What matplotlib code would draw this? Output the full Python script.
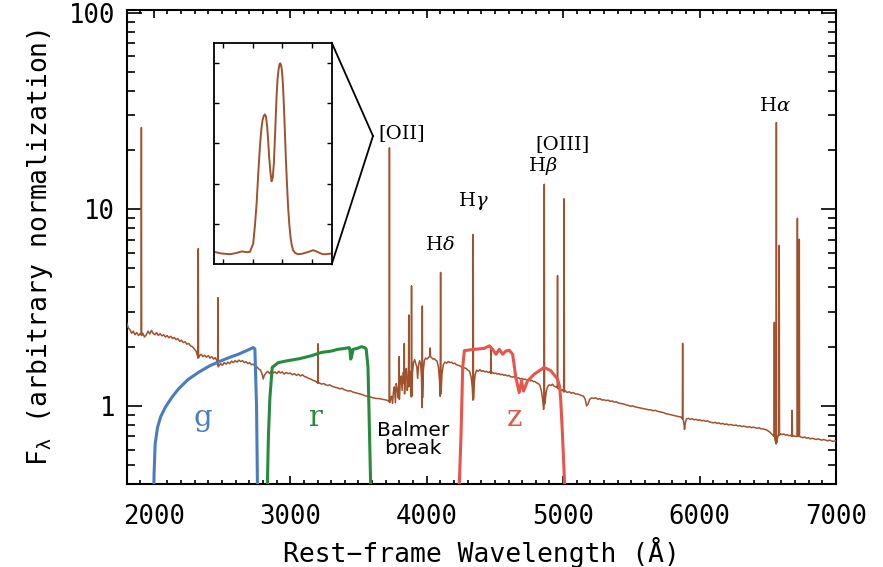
import matplotlib
matplotlib.use("Agg")
import matplotlib.pyplot as plt
from matplotlib.ticker import FixedLocator, MultipleLocator, NullFormatter, NullLocator
from matplotlib.lines import Line2D

# ---------------- data ----------------
# composite spectrum (rest-frame wavelength in Angstrom, arbitrary flux)
spec_wave = [
    1800, 1812, 1825, 1838, 1850, 1862, 1875, 1888, 1900, 1907, 1909, 1911, 1920, 1932, 1945, 1958,
    1970, 1983, 1995, 2008, 2020, 2033, 2046, 2060, 2072, 2085, 2098, 2110, 2124, 2138, 2150, 2163,
    2176, 2190, 2203, 2216, 2230, 2243, 2256, 2270, 2283, 2296, 2310, 2320, 2324, 2326, 2328, 2335,
    2348, 2360, 2373, 2386, 2400, 2412, 2425, 2438, 2450, 2462, 2468, 2470, 2472, 2478, 2490, 2503,
    2516, 2530, 2543, 2556, 2570, 2583, 2596, 2610, 2623, 2636, 2650, 2663, 2676, 2690, 2703, 2716,
    2730, 2743, 2756, 2770, 2783, 2795, 2802, 2810, 2822, 2835, 2848, 2862, 2875, 2888, 2902, 2915,
    2928, 2942, 2955, 2970, 2985, 3000, 3015, 3030, 3045, 3060, 3075, 3090, 3105, 3120, 3135, 3150,
    3165, 3180, 3195, 3201, 3203, 3205, 3215, 3230, 3245, 3260, 3275, 3290, 3305, 3320, 3335, 3350,
    3365, 3380, 3395, 3410, 3425, 3440, 3455, 3470, 3485, 3500, 3515, 3530, 3545, 3560, 3575, 3590,
    3605, 3620, 3635, 3650, 3665, 3680, 3695, 3708, 3718, 3725, 3727, 3729, 3735, 3742, 3750, 3756,
    3763, 3771, 3777, 3784, 3791, 3796, 3798, 3800, 3806, 3813, 3820, 3827, 3834, 3836, 3838, 3844,
    3851, 3858, 3864, 3867, 3869, 3871, 3878, 3885, 3887, 3889, 3891, 3896, 3903, 3912, 3920, 3928,
    3934, 3940, 3948, 3956, 3962, 3966, 3968, 3970, 3975, 3983, 3992, 4002, 4012, 4020, 4024, 4026,
    4028, 4036, 4046, 4056, 4066, 4076, 4086, 4094, 4099, 4102, 4105, 4112, 4122, 4134, 4146, 4158,
    4170, 4182, 4194, 4206, 4218, 4230, 4242, 4254, 4266, 4278, 4290, 4302, 4314, 4326, 4334, 4339,
    4341, 4343, 4348, 4356, 4366, 4378, 4390, 4402, 4414, 4426, 4438, 4450, 4462, 4469, 4471, 4473,
    4482, 4494, 4506, 4518, 4530, 4542, 4554, 4566, 4578, 4590, 4602, 4614, 4626, 4638, 4650, 4662,
    4674, 4686, 4698, 4710, 4722, 4734, 4746, 4758, 4770, 4782, 4794, 4806, 4818, 4830, 4840, 4850,
    4857, 4860, 4862, 4864, 4868, 4876, 4886, 4898, 4910, 4922, 4934, 4946, 4955, 4957, 4959, 4961,
    4966, 4976, 4986, 4996, 5004, 5007, 5010, 5018, 5030, 5045, 5060, 5075, 5090, 5105, 5120, 5135,
    5150, 5162, 5172, 5182, 5195, 5210, 5225, 5240, 5255, 5270, 5285, 5300, 5315, 5330, 5345, 5360,
    5375, 5390, 5405, 5420, 5435, 5450, 5465, 5480, 5495, 5510, 5525, 5540, 5555, 5570, 5585, 5600,
    5615, 5630, 5645, 5660, 5675, 5690, 5705, 5720, 5735, 5750, 5765, 5780, 5795, 5810, 5825, 5840,
    5855, 5868, 5874, 5876, 5878, 5884, 5890, 5896, 5904, 5918, 5932, 5946, 5960, 5974, 5988, 6002,
    6016, 6030, 6044, 6058, 6072, 6086, 6100, 6114, 6128, 6142, 6156, 6170, 6184, 6198, 6212, 6226,
    6240, 6254, 6268, 6282, 6296, 6310, 6324, 6338, 6352, 6366, 6380, 6394, 6408, 6422, 6436, 6450,
    6464, 6478, 6492, 6504, 6516, 6528, 6538, 6545, 6548, 6551, 6556, 6561, 6563, 6565, 6570, 6578,
    6582, 6584, 6586, 6594, 6606, 6618, 6630, 6642, 6654, 6666, 6675, 6678, 6681, 6690, 6702, 6712,
    6715, 6717, 6719, 6724, 6729, 6731, 6733, 6742, 6756, 6770, 6784, 6798, 6812, 6826, 6840, 6854,
    6868, 6882, 6896, 6910, 6924, 6938, 6952, 6966, 6980, 6994, 7000,
]
spec_flux = [
    2.66, 2.50, 2.44, 2.34, 2.40, 2.30, 2.36, 2.28, 2.33, 2.30, 26.0, 2.28, 2.34, 2.24, 2.30, 2.40,
    2.32, 2.42, 2.34, 2.30, 2.36, 2.28, 2.33, 2.27, 2.30, 2.24, 2.28, 2.22, 2.26, 2.20, 2.23, 2.17,
    2.20, 2.13, 2.16, 2.10, 2.12, 2.06, 2.08, 2.02, 2.00, 1.95, 1.90, 1.80, 1.75, 6.3, 1.76, 1.80,
    1.83, 1.78, 1.81, 1.77, 1.80, 1.75, 1.78, 1.73, 1.76, 1.70, 1.62, 3.55, 1.58, 1.60, 1.64, 1.61,
    1.66, 1.63, 1.67, 1.64, 1.69, 1.66, 1.70, 1.67, 1.71, 1.68, 1.70, 1.66, 1.68, 1.64, 1.66, 1.62,
    1.63, 1.59, 1.58, 1.54, 1.52, 1.44, 1.37, 1.43, 1.47, 1.50, 1.46, 1.51, 1.47, 1.49, 1.46, 1.50,
    1.47, 1.49, 1.45, 1.48, 1.46, 1.47, 1.44, 1.46, 1.43, 1.45, 1.42, 1.44, 1.41, 1.40, 1.38, 1.37,
    1.35, 1.34, 1.32, 1.31, 2.07, 1.30, 1.31, 1.29, 1.30, 1.28, 1.27, 1.28, 1.26, 1.25, 1.24, 1.235,
    1.22, 1.23, 1.21, 1.20, 1.19, 1.195, 1.18, 1.17, 1.165, 1.155, 1.15, 1.14, 1.13, 1.12, 1.115, 1.11,
    1.10, 1.095, 1.09, 1.09, 1.085, 1.08, 1.075, 1.07, 1.06, 1.05, 20.5, 1.04, 1.09, 1.12, 1.03, 1.18,
    1.25, 1.04, 1.30, 1.22, 1.10, 1.30, 1.78, 1.08, 1.35, 1.42, 1.20, 1.48, 1.30, 2.08, 1.15, 1.45,
    1.55, 1.20, 1.35, 1.60, 2.90, 1.25, 1.50, 1.30, 1.11, 4.08, 1.12, 1.48, 1.66, 1.72, 1.64, 1.58,
    1.38, 1.60, 1.70, 1.62, 1.40, 0.98, 3.22, 1.10, 1.50, 1.70, 1.75, 1.73, 1.76, 1.78, 1.80, 1.97,
    1.78, 1.76, 1.73, 1.74, 1.71, 1.69, 1.58, 1.35, 1.12, 4.77, 1.15, 1.45, 1.62, 1.67, 1.65, 1.68,
    1.66, 1.67, 1.64, 1.65, 1.62, 1.61, 1.60, 1.58, 1.57, 1.56, 1.55, 1.52, 1.50, 1.40, 1.25, 1.07,
    7.45, 1.08, 1.30, 1.45, 1.52, 1.50, 1.53, 1.50, 1.51, 1.49, 1.50, 1.48, 1.49, 1.47, 2.00, 1.46,
    1.48, 1.46, 1.47, 1.45, 1.46, 1.44, 1.45, 1.43, 1.44, 1.42, 1.43, 1.41, 1.40, 1.41, 1.39, 1.38,
    1.39, 1.37, 1.38, 1.36, 1.37, 1.35, 1.36, 1.34, 1.35, 1.33, 1.33, 1.31, 1.30, 1.27, 1.20, 1.08,
    0.96, 1.00, 13.4, 1.02, 1.05, 1.18, 1.25, 1.28, 1.27, 1.29, 1.26, 1.25, 1.24, 1.24, 4.60, 1.23,
    1.22, 1.23, 1.20, 1.21, 1.18, 11.3, 1.18, 1.19, 1.17, 1.18, 1.16, 1.17, 1.15, 1.15, 1.14, 1.13,
    1.12, 1.08, 1.00, 1.02, 1.08, 1.10, 1.09, 1.10, 1.08, 1.09, 1.07, 1.075, 1.065, 1.07, 1.055, 1.06,
    1.045, 1.05, 1.035, 1.03, 1.025, 1.02, 1.01, 1.005, 0.995, 1.00, 0.99, 0.985, 0.98, 0.975, 0.97, 0.965,
    0.96, 0.955, 0.955, 0.945, 0.95, 0.94, 0.935, 0.93, 0.925, 0.915, 0.91, 0.905, 0.90, 0.895, 0.89, 0.885,
    0.88, 0.875, 0.86, 2.08, 0.86, 0.83, 0.76, 0.82, 0.86, 0.865, 0.855, 0.86, 0.85, 0.855, 0.845, 0.85,
    0.84, 0.845, 0.835, 0.84, 0.83, 0.825, 0.82, 0.825, 0.815, 0.82, 0.81, 0.815, 0.805, 0.81, 0.80, 0.805,
    0.80, 0.795, 0.80, 0.79, 0.795, 0.785, 0.79, 0.785, 0.78, 0.785, 0.775, 0.78, 0.775, 0.77, 0.775, 0.765,
    0.765, 0.76, 0.755, 0.745, 0.735, 0.72, 0.71, 0.70, 2.66, 0.68, 0.66, 0.64, 27.6, 0.65, 0.68, 0.71,
    0.71, 6.55, 0.71, 0.72, 0.715, 0.72, 0.71, 0.715, 0.705, 0.71, 0.70, 0.95, 0.70, 0.705, 0.70, 0.70,
    0.70, 9.0, 0.70, 0.70, 0.70, 7.03, 0.70, 0.695, 0.69, 0.695, 0.685, 0.69, 0.68, 0.685, 0.68, 0.675,
    0.68, 0.675, 0.67, 0.675, 0.67, 0.665, 0.67, 0.665, 0.66, 0.665, 0.66,
]

# filter transmission curves (plotted on the same log axis)
g_wave = [2000, 2002, 2010, 2027, 2050, 2083, 2130, 2181, 2250, 2327, 2410, 2497, 2560, 2619, 2680, 2729, 2741, 2753, 2760]
g_resp = [0.38, 0.45, 0.64, 0.775, 0.88, 0.98, 1.10, 1.22, 1.36, 1.48, 1.60, 1.70, 1.77, 1.83, 1.91, 1.98, 1.95, 1.00, 0.38]

r_wave = [2832, 2840, 2851, 2868, 2912, 2985, 3070, 3155, 3228, 3300, 3350, 3400, 3431, 3437, 3443, 3450, 3460, 3490, 3521, 3545, 3557, 3570, 3578, 3590]
r_resp = [0.38, 0.70, 1.10, 1.57, 1.66, 1.70, 1.74, 1.80, 1.87, 1.90, 1.94, 1.96, 1.98, 1.95, 1.73, 1.78, 1.94, 1.96, 2.00, 1.98, 1.94, 1.57, 0.90, 0.38]

z_wave = [4238, 4246, 4252, 4264, 4276, 4349, 4420, 4459, 4483, 4508, 4532, 4557, 4580, 4605, 4630, 4654, 4678, 4695, 4710, 4739, 4788, 4861, 4910, 4959, 4975, 4983, 4995, 5005, 5012]
z_resp = [0.38, 0.55, 0.72, 1.57, 1.91, 1.94, 1.96, 2.02, 1.94, 1.83, 1.94, 1.83, 1.90, 1.92, 1.83, 1.39, 1.17, 1.34, 1.19, 1.34, 1.45, 1.57, 1.51, 1.37, 1.25, 1.06, 0.72, 0.50, 0.38]

# [OII] doublet zoom (inset)
oii_wave = [3718.4, 3719.6, 3721.1, 3722.2, 3723.1, 3724.0, 3724.5, 3725.06, 3725.35, 3725.64, 3725.92, 3726.20,
            3726.45, 3726.65, 3726.85, 3727.04, 3727.25, 3727.43, 3727.60, 3727.77, 3727.98, 3728.18, 3728.38,
            3728.57, 3728.80, 3729.03, 3729.20, 3729.37, 3729.50, 3729.64, 3729.78, 3729.93, 3730.10, 3730.26,
            3730.43, 3730.60, 3730.80, 3730.99, 3731.20, 3731.40, 3731.62, 3731.84, 3732.2, 3732.69, 3733.3,
            3733.82, 3734.5, 3735.23, 3735.8, 3736.37, 3736.9, 3737.5, 3738.4]
oii_flux = [0.31, 0.27, 0.25, 0.28, 0.32, 0.30, 0.31, 0.51, 0.95, 1.51, 2.25, 2.92, 3.35, 3.58, 3.68, 3.72,
            3.66, 3.42, 3.08, 2.67, 2.30, 2.06, 2.15, 2.50, 3.30, 4.16, 4.60, 4.83, 4.95, 4.99, 4.95, 4.83,
            4.50, 4.00, 3.35, 2.67, 2.00, 1.43, 0.98, 0.68, 0.47, 0.35, 0.28, 0.25, 0.26,
            0.28, 0.31, 0.35, 0.32, 0.28, 0.25, 0.25, 0.27]

# annotations
line_labels = ["[OII]", r"H$\delta$", r"H$\gamma$", r"H$\beta$", "[OIII]", r"H$\alpha$"]
line_label_x = [3815, 4096, 4344, 4853, 4993, 6555]
line_label_y = [24.5, 6.6, 10.95, 16.6, 21.5, 33.3]

filter_names = ["g", "r", "z"]
filter_label_x = [2362, 3186, 4645]
filter_label_y = [0.786, 0.786, 0.786]

x_major = [2000, 3000, 4000, 5000, 6000, 7000]
y_major = [1, 10, 100]
y_major_labels = ["1", "10", "100"]

# ---------------- style ----------------
BROWN = "#a0522d"
BLUE = "#4a7dbf"
GREEN = "#278a3c"
RED = "#e8554a"
MONO = "DejaVu Sans Mono"
SERIF = "DejaVu Serif"

W, H = 883, 567
fig = plt.figure(figsize=(W / 100, H / 100), dpi=100)
L, R, T, B = 126.5, 836.0, 10.0, 484.2
ax = fig.add_axes([L / W, 1 - B / H, (R - L) / W, (B - T) / H])

ax.plot(spec_wave, spec_flux, color=BROWN, lw=1.1, zorder=3)
ax.plot(g_wave, g_resp, color=BLUE, lw=2.2, zorder=4)
ax.plot(r_wave, r_resp, color=GREEN, lw=2.2, zorder=4)
ax.plot(z_wave, z_resp, color=RED, lw=2.2, zorder=4)

ax.set_yscale("log")
ax.set_xlim(1800, 7000)
ax.set_ylim(0.4, 103)

ax.xaxis.set_major_locator(FixedLocator(x_major))
ax.xaxis.set_minor_locator(MultipleLocator(100))
ax.yaxis.set_major_locator(FixedLocator(y_major))
ax.set_yticklabels(y_major_labels)
ax.yaxis.set_minor_locator(FixedLocator([v * d for d in (0.1, 1, 10) for v in range(2, 10)]))
ax.yaxis.set_minor_formatter(NullFormatter())

for s in ax.spines.values():
    s.set_linewidth(1.5)
ax.tick_params(axis="both", which="both", direction="in", top=True, right=True, width=1.2, colors="black")
ax.tick_params(axis="x", which="major", length=5.5, pad=14)
ax.tick_params(axis="x", which="minor", length=3.2)
ax.tick_params(axis="y", which="major", length=11, pad=8)
ax.tick_params(axis="y", which="minor", length=5.5)
for lab in ax.get_xticklabels() + ax.get_yticklabels():
    lab.set_fontfamily(MONO)
    lab.set_fontsize(18.5)

ax.set_xlabel("Rest\u2212frame Wavelength (\u00c5)", fontfamily=MONO, fontsize=19, labelpad=5)
ax.set_ylabel(r"F$_\mathrm{\lambda}$ (arbitrary normalization)", fontfamily=MONO, fontsize=19,
              labelpad=10, math_fontfamily="dejavusans")

for txt, x, y in zip(line_labels, line_label_x, line_label_y):
    ax.text(x, y, txt, ha="center", va="center", fontsize=14, fontfamily=SERIF,
            math_fontfamily="dejavuserif", zorder=6)

for name, x, y, c in zip(filter_names, filter_label_x, filter_label_y, [BLUE, GREEN, RED]):
    ax.text(x, y, name, ha="center", va="baseline", fontsize=21, fontfamily=SERIF, color=c, zorder=6)

ax.text(3902, 0.675, "Balmer\nbreak", ha="center", va="center", fontsize=14.5, fontfamily="DejaVu Sans",
        linespacing=0.95, zorder=6)

# inset with [OII] doublet
ix0, ix1, iy0, iy1 = 214.0, 331.7, 42.7, 264.3
axin = fig.add_axes([ix0 / W, 1 - iy1 / H, (ix1 - ix0) / W, (iy1 - iy0) / H])
axin.plot(oii_wave, oii_flux, color=BROWN, lw=1.4)
axin.set_xlim(3718.4, 3738.4)
axin.set_ylim(0, 5.5)
axin.xaxis.set_major_locator(FixedLocator([3720, 3725, 3730, 3735]))
axin.yaxis.set_major_locator(FixedLocator([1, 2, 3, 4, 5]))
axin.xaxis.set_minor_locator(NullLocator())
axin.yaxis.set_minor_locator(NullLocator())
axin.tick_params(axis="both", direction="in", top=True, right=True, length=3.5, width=1.0,
                 labelbottom=False, labelleft=False)
for s in axin.spines.values():
    s.set_linewidth(1.3)

# connector lines from inset to the [OII] line
apex = (373 / W, 1 - 136 / H)
for cy in (iy0, iy1):
    fig.add_artist(Line2D([ix1 / W, apex[0]], [1 - cy / H, apex[1]], transform=fig.transFigure,
                          color="black", lw=1.3))

fig.savefig("out.png", dpi=100)
